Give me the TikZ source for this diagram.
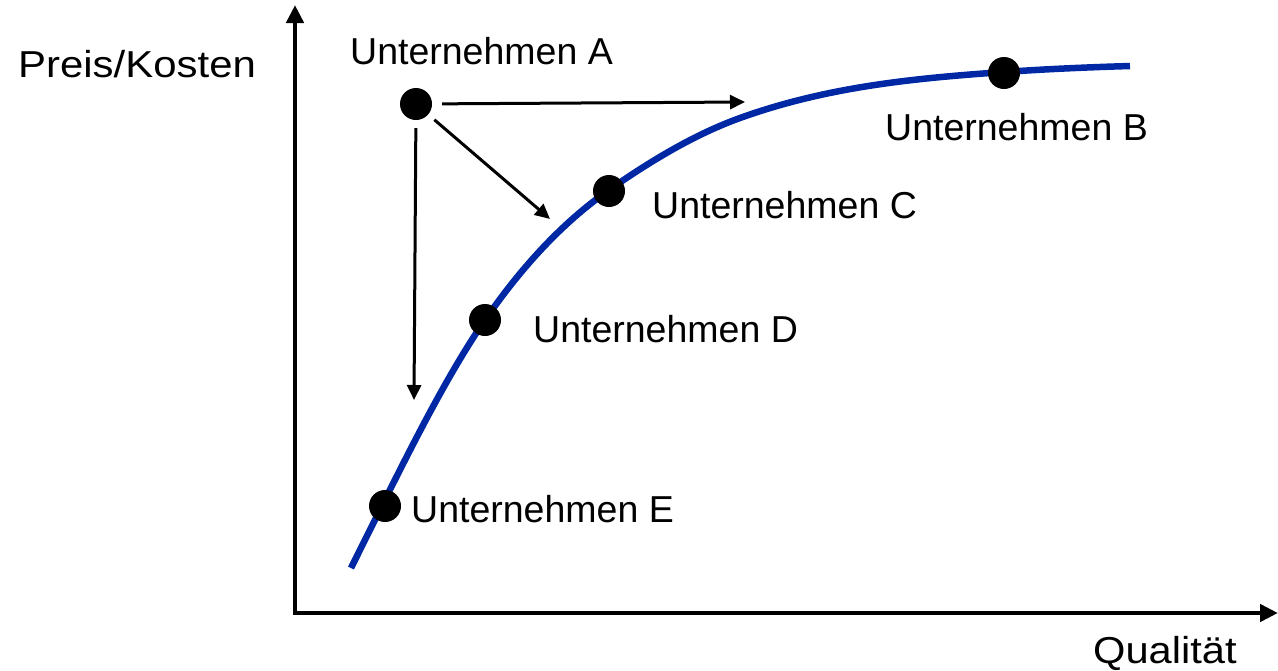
\documentclass[tikz,border=0pt]{standalone}
\usepackage{fontspec}
\setmainfont{Liberation Sans}
\usetikzlibrary{arrows.meta}
\definecolor{curveblue}{RGB}{0,40,165}
\begin{document}
\begin{tikzpicture}[x=1pt,y=-1pt,
  lbl/.style={anchor=base west,inner sep=0pt,font=\fontsize{37.5}{44}\selectfont},
  firm/.style={circle,fill=black,minimum size=32pt,inner sep=0pt},
  axis/.style={line width=4.5pt,{Triangle[length=18pt,width=17pt]}-{Triangle[length=18pt,width=17pt]}},
  move/.style={line width=3pt,-{Triangle[length=15pt,width=14pt]}}]
\useasboundingbox (0,0) rectangle (1278,670);
% axes
\coordinate (O) at (295,613);
\coordinate (ytip) at (295,5);
\coordinate (xtip) at (1278,613);
\draw[axis] (ytip) -- (O) -- (xtip);
% curve
\coordinate (k0) at (351,568);
\coordinate (k2) at (485,320);
\coordinate (k3) at (609,190);
\coordinate (k4) at (740,118);
\coordinate (k5) at (1004,72);
\coordinate (k6) at (1130,66);
\draw[curveblue,line width=6.5pt] (k0)
  .. controls (395.67,478.67) and (440.33,384.8) .. (k2)
  .. controls (526.33,260.07) and (567.67,218.93) .. (k3)
  .. controls (652.67,159.43) and (696.33,133.72) .. (k4)
  .. controls (828,86.32) and (916,78.16) .. (k5)
  .. controls (1046,69.06) and (1088,67.26) .. (k6);
% firms
\node[firm] (A) at (416,104) {};
\node[firm] (B) at (1004,73) {};
\node[firm] (C) at (609,191) {};
\node[firm] (D) at (485,320) {};
\node[firm] (E) at (385,506) {};
% labels
\node[lbl] (lp) at (18,77) {\scalebox{1.118}[1]{Preis/Kosten}};
\node[lbl] (lq) at (1093,663) {\scalebox{1.11}[1]{Qualität}};
\node[lbl] (la) at (350,64) {Unternehmen A};
\node[lbl] (lb) at (885,140) {Unternehmen B};
\node[lbl] (lc) at (652,218) {Unternehmen C};
\node[lbl] (ld) at (533,342) {Unternehmen D};
\node[lbl] (le) at (411,522) {Unternehmen E};
% moves
\coordinate (th) at (745,102);
\coordinate (td) at (550,219);
\coordinate (tv) at (414,400);
\draw[move,shorten <=10pt] (A) -- (th);
\draw[move,shorten <=8pt] (A) -- (td);
\draw[move,shorten <=8pt] (A) -- (tv);
\end{tikzpicture}
\end{document}
